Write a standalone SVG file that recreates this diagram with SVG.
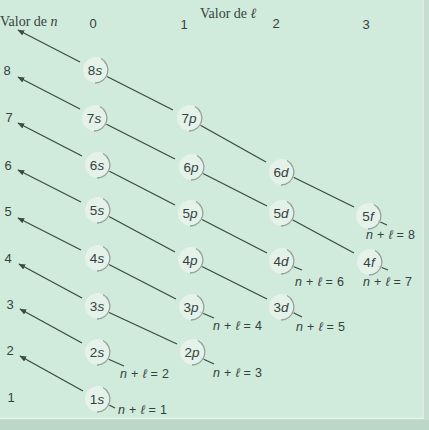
<svg xmlns="http://www.w3.org/2000/svg" xmlns:xlink="http://www.w3.org/1999/xlink" width="429" height="430" viewBox="0 0 429 430">
<style>
.t{font-family:"Liberation Sans","DejaVu Sans",sans-serif;fill:#34423d;font-size:13px}
.q{font-family:"Liberation Sans","DejaVu Sans",sans-serif;fill:#34423d;font-size:12.5px;letter-spacing:0.3px}
.s{font-family:"Liberation Serif","DejaVu Serif",serif;fill:#34423d;font-size:14px}
.o{font-family:"Liberation Sans","DejaVu Sans",sans-serif;fill:#34423d;font-size:13.5px;text-anchor:middle}
.i{font-style:italic}
.c{stroke:#3d4a45;stroke-width:1.3;fill:none}
.a{stroke:#3d4a45;stroke-width:1.3;fill:none;marker-end:url(#ah)}
</style>
<defs>
<marker id="ah" viewBox="0 0 10 10" refX="9" refY="5" markerWidth="7" markerHeight="7" orient="auto" markerUnits="userSpaceOnUse">
<path d="M0,1 L10,5 L0,9 Z" fill="#3d4a45"/>
</marker>
<g id="badge">
<circle cx="1" cy="0" r="13" fill="#eaf4ed" opacity="0.8"/>
<path d="M6,-11.5 A13 13 0 0 1 0,13" fill="none" stroke="#93a39b" stroke-width="1.4"/>
</g>
</defs>
<rect width="429" height="430" fill="#d0eadc"/>
<rect x="0" y="419" width="429" height="11" fill="#bcd6c8"/>
<line x1="0" y1="418.5" x2="429" y2="418.5" stroke="#e6f3ea" stroke-width="1.5"/>
<line x1="423" y1="0" x2="423" y2="419" stroke="#e2efe7" stroke-width="1.2"/>
<rect x="424" y="0" width="5" height="419" fill="#c6ddd1"/>

<g id="axis-labels">
<text class="s" x="0" y="26">Valor de <tspan class="i">n</tspan></text>
<text class="s" x="200" y="18">Valor de <tspan class="i">ℓ</tspan></text>
<text class="t" x="93" y="28" text-anchor="middle">0</text>
<text class="t" x="184" y="29" text-anchor="middle">1</text>
<text class="t" x="276" y="28" text-anchor="middle">2</text>
<text class="t" x="366" y="29" text-anchor="middle">3</text>
<text class="t" x="7" y="75" text-anchor="middle">8</text>
<text class="t" x="9" y="122" text-anchor="middle">7</text>
<text class="t" x="8" y="170" text-anchor="middle">6</text>
<text class="t" x="8" y="216" text-anchor="middle">5</text>
<text class="t" x="8" y="263" text-anchor="middle">4</text>
<text class="t" x="10" y="309" text-anchor="middle">3</text>
<text class="t" x="10" y="355" text-anchor="middle">2</text>
<text class="t" x="11" y="402" text-anchor="middle">1</text>
</g>

<g id="connectors">
<line class="a" x1="80" y1="62" x2="18" y2="30"/>
<line class="a" x1="80" y1="109" x2="18" y2="77"/>
<line class="a" x1="82" y1="156" x2="18" y2="123"/>
<line class="a" x1="81" y1="202" x2="18" y2="170"/>
<line class="a" x1="81" y1="250" x2="18" y2="218"/>
<line class="a" x1="82" y1="298" x2="19" y2="264"/>
<line class="a" x1="82" y1="343" x2="20" y2="309"/>
<line class="a" x1="83" y1="391" x2="20" y2="356"/>

<line class="c" x1="106" y1="76" x2="173" y2="110"/>
<line class="c" x1="200" y1="125" x2="266" y2="162"/>
<line class="c" x1="293" y1="177" x2="354" y2="207"/>
<line class="c" x1="378" y1="221" x2="387" y2="225"/>

<line class="c" x1="106" y1="124" x2="175" y2="159"/>
<line class="c" x1="202" y1="173" x2="267" y2="206"/>
<line class="c" x1="291" y1="219" x2="354" y2="253"/>
<line class="c" x1="378" y1="266" x2="388" y2="270"/>

<line class="c" x1="109" y1="171" x2="175" y2="205"/>
<line class="c" x1="201" y1="219" x2="267" y2="253"/>
<line class="c" x1="292" y1="266" x2="302" y2="270"/>

<line class="c" x1="108" y1="216" x2="175" y2="252"/>
<line class="c" x1="201" y1="266" x2="267" y2="299"/>
<line class="c" x1="292" y1="312" x2="302" y2="317"/>

<line class="c" x1="108" y1="264" x2="176" y2="299"/>
<line class="c" x1="200" y1="312" x2="214" y2="318"/>

<line class="c" x1="108" y1="312" x2="177" y2="344"/>
<line class="c" x1="201" y1="358" x2="214" y2="364"/>

<line class="c" x1="108" y1="359" x2="124" y2="366"/>
<line class="c" x1="107" y1="404" x2="115" y2="408"/>
</g>

<g id="n8s"><use xlink:href="#badge" x="95" y="70"/><text class="o" x="95" y="74.5">8<tspan class="i">s</tspan></text></g>
<g id="n7s"><use xlink:href="#badge" x="94" y="118"/><text class="o" x="94" y="122.5">7<tspan class="i">s</tspan></text></g>
<g id="n7p"><use xlink:href="#badge" x="189" y="118"/><text class="o" x="189" y="122.5">7<tspan class="i">p</tspan></text></g>
<g id="n6s"><use xlink:href="#badge" x="97" y="165"/><text class="o" x="97" y="169.5">6<tspan class="i">s</tspan></text></g>
<g id="n6p"><use xlink:href="#badge" x="191" y="167"/><text class="o" x="191" y="171.5">6<tspan class="i">p</tspan></text></g>
<g id="n6d"><use xlink:href="#badge" x="281" y="172"/><text class="o" x="281" y="176.5">6<tspan class="i">d</tspan></text></g>
<g id="n5s"><use xlink:href="#badge" x="97" y="210"/><text class="o" x="97" y="214.5">5<tspan class="i">s</tspan></text></g>
<g id="n5p"><use xlink:href="#badge" x="190" y="213"/><text class="o" x="190" y="217.5">5<tspan class="i">p</tspan></text></g>
<g id="n5d"><use xlink:href="#badge" x="281" y="213"/><text class="o" x="281" y="217.5">5<tspan class="i">d</tspan></text></g>
<g id="n5f"><use xlink:href="#badge" x="368" y="216"/><text class="o" x="368" y="220.5">5<tspan class="i">f</tspan></text></g>
<g id="n4s"><use xlink:href="#badge" x="97" y="258"/><text class="o" x="97" y="262.5">4<tspan class="i">s</tspan></text></g>
<g id="n4p"><use xlink:href="#badge" x="190" y="260"/><text class="o" x="190" y="264.5">4<tspan class="i">p</tspan></text></g>
<g id="n4d"><use xlink:href="#badge" x="281" y="261"/><text class="o" x="281" y="265.5">4<tspan class="i">d</tspan></text></g>
<g id="n4f"><use xlink:href="#badge" x="369" y="262"/><text class="o" x="369" y="266.5">4<tspan class="i">f</tspan></text></g>
<g id="n3s"><use xlink:href="#badge" x="97" y="306"/><text class="o" x="97" y="310.5">3<tspan class="i">s</tspan></text></g>
<g id="n3p"><use xlink:href="#badge" x="191" y="307"/><text class="o" x="191" y="311.5">3<tspan class="i">p</tspan></text></g>
<g id="n3d"><use xlink:href="#badge" x="281" y="307"/><text class="o" x="281" y="311.5">3<tspan class="i">d</tspan></text></g>
<g id="n2s"><use xlink:href="#badge" x="97" y="352"/><text class="o" x="97" y="356.5">2<tspan class="i">s</tspan></text></g>
<g id="n2p"><use xlink:href="#badge" x="192" y="352"/><text class="o" x="192" y="356.5">2<tspan class="i">p</tspan></text></g>
<g id="n1s"><use xlink:href="#badge" x="97" y="399"/><text class="o" x="97" y="403.5">1<tspan class="i">s</tspan></text></g>

<g id="sum-labels">
<text class="q" x="118" y="414"><tspan class="i">n</tspan> + <tspan class="i">ℓ</tspan> = 1</text>
<text class="q" x="120" y="378"><tspan class="i">n</tspan> + <tspan class="i">ℓ</tspan> = 2</text>
<text class="q" x="213" y="377"><tspan class="i">n</tspan> + <tspan class="i">ℓ</tspan> = 3</text>
<text class="q" x="213" y="330"><tspan class="i">n</tspan> + <tspan class="i">ℓ</tspan> = 4</text>
<text class="q" x="296" y="331"><tspan class="i">n</tspan> + <tspan class="i">ℓ</tspan> = 5</text>
<text class="q" x="295" y="286"><tspan class="i">n</tspan> + <tspan class="i">ℓ</tspan> = 6</text>
<text class="q" x="363" y="286"><tspan class="i">n</tspan> + <tspan class="i">ℓ</tspan> = 7</text>
<text class="q" x="366" y="239"><tspan class="i">n</tspan> + <tspan class="i">ℓ</tspan> = 8</text>
</g>
</svg>
